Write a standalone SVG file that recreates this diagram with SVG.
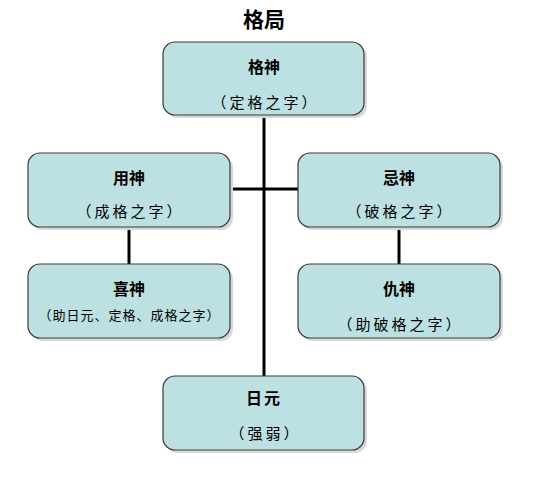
<svg xmlns="http://www.w3.org/2000/svg" width="538" height="478" viewBox="0 0 538 478">
<style>
.box{fill:#bde0e2;stroke:#3a3a3a;stroke-width:1.2}
.sh{fill:#d8d8d8}
.t{font-family:"Noto Sans CJK SC","Noto Sans CJK JP",sans-serif;font-size:15px;text-anchor:middle;fill:#000}
.b{font-weight:bold;font-size:16px}
.w{letter-spacing:3px}
.s{font-size:13px;letter-spacing:1px}
.ln{stroke:#000;stroke-width:3;fill:none}
</style>
<rect width="538" height="478" fill="#fff"/>
<text class="t" x="264" y="27" style="font-weight:bold;font-size:21px">格局</text>
<g id="connectors">
<line class="ln" x1="264" y1="115" x2="264" y2="376"/>
<line class="ln" x1="230" y1="189" x2="298" y2="189"/>
<line class="ln" x1="129" y1="227" x2="129" y2="264"/>
<line class="ln" x1="399" y1="227" x2="399" y2="264"/>
</g>
<g id="geshen">
<rect class="sh" x="166" y="45" width="201" height="73" rx="12"/>
<rect class="box" x="163" y="42" width="201" height="73" rx="12"/>
<text class="t b" x="264" y="73">格神</text>
<text class="t w" x="265.5" y="108">（定格之字）</text>
</g>
<g id="yongshen">
<rect class="sh" x="31" y="156" width="202" height="74" rx="12"/>
<rect class="box" x="28" y="153" width="202" height="74" rx="12"/>
<text class="t b" x="129" y="184">用神</text>
<text class="t w" x="130.5" y="217">（成格之字）</text>
</g>
<g id="jishen">
<rect class="sh" x="301" y="156" width="202" height="74" rx="12"/>
<rect class="box" x="298" y="153" width="202" height="74" rx="12"/>
<text class="t b" x="399" y="184">忌神</text>
<text class="t w" x="400.5" y="217">（破格之字）</text>
</g>
<g id="xishen">
<rect class="sh" x="31" y="267" width="202" height="74" rx="12"/>
<rect class="box" x="28" y="264" width="202" height="74" rx="12"/>
<text class="t b" x="129" y="295">喜神</text>
<text class="t s" x="129.5" y="320">（助日元、定格、成格之字）</text>
</g>
<g id="choushen">
<rect class="sh" x="301" y="267" width="202" height="74" rx="12"/>
<rect class="box" x="298" y="264" width="202" height="74" rx="12"/>
<text class="t b" x="399" y="295">仇神</text>
<text class="t w" x="400.5" y="330">（助破格之字）</text>
</g>
<g id="riyuan">
<rect class="sh" x="166" y="379" width="201" height="74" rx="12"/>
<rect class="box" x="163" y="376" width="201" height="74" rx="12"/>
<text class="t b" x="264" y="404" style="letter-spacing:2px">日元</text>
<text class="t w" x="265.5" y="439">（强弱）</text>
</g>
</svg>
